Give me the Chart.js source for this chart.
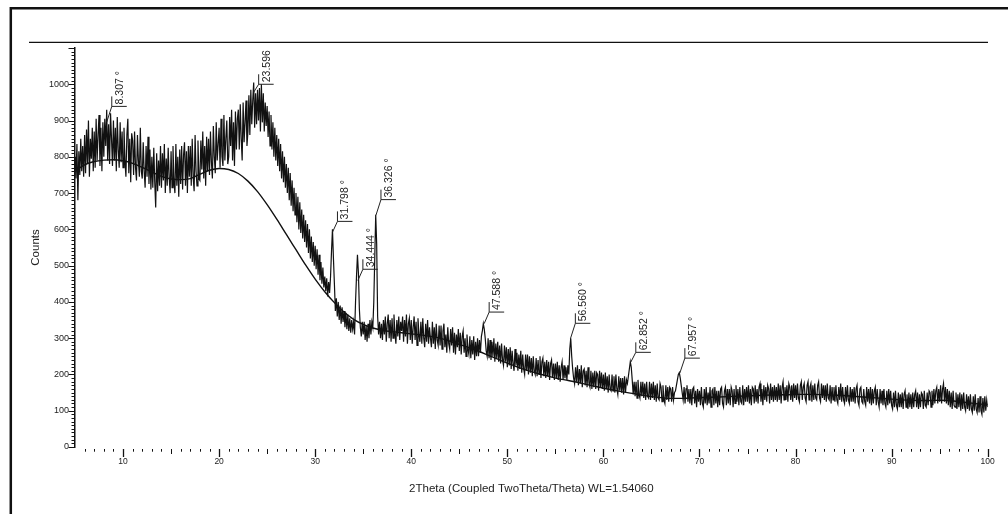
<!DOCTYPE html>
<html><head><meta charset="utf-8">
<script src="https://cdn.jsdelivr.net/npm/chart.js@4/dist/chart.umd.min.js"></script>
<style>html,body{margin:0;padding:0;background:#fff}canvas{display:block}</style>
</head><body>
<canvas id="c" width="1008" height="514"></canvas>
<script>
// ---- data (2Theta grid starts at 5°, one reading every 0.1°) ----
const angleStart = 5;
const angleStep = 0.1;
const counts = [
/* 5 */ 800,740,835,680,815,750,850,760,830,745,
/* 6 */ 860,755,875,780,900,745,850,795,880,760,
/* 7 */ 870,770,905,790,860,915,775,880,760,895,
/* 8 */ 800,905,830,930,790,890,780,920,850,775,
/* 9 */ 900,790,880,760,910,820,770,895,785,870,
/*10 */ 770,880,790,745,860,905,755,850,730,865,
/*11 */ 845,750,870,770,735,860,790,745,880,760,
/*12 */ 740,840,760,715,830,745,855,725,820,710,
/*13 */ 800,715,825,730,660,810,705,790,720,830,
/*14 */ 715,810,735,835,700,795,720,825,745,700,
/*15 */ 815,715,830,730,700,835,720,800,690,820,
/*16 */ 725,830,710,805,840,720,815,700,830,745,
/*17 */ 830,720,850,745,705,860,760,720,845,740,
/*18 */ 735,845,765,870,740,830,720,855,760,850,
/*19 */ 750,870,785,740,885,800,755,895,790,835,
/*20 */ 880,770,905,800,775,915,790,850,900,780,
/*21 */ 800,910,830,930,790,895,775,925,820,905,
/*22 */ 930,820,945,850,790,950,840,895,955,830,
/*23 */ 870,970,860,985,890,955,1005,880,975,890,
/*24 */ 985,900,990,870,1000,895,975,870,950,885,
/*25 */ 940,855,925,830,915,820,895,800,880,790,
/*26 */ 860,775,850,760,835,740,815,730,800,715,
/*27 */ 780,700,770,680,755,665,735,650,715,640,
/*28 */ 700,620,690,600,675,590,655,575,640,565,
/*29 */ 625,550,615,535,600,520,580,510,565,500,
/*30 */ 555,490,545,475,530,460,510,450,495,440,
/*31 */ 470,430,465,415,455,425,470,540,600,520,
/*32 */ 450,375,410,360,400,350,390,340,385,345,
/*33 */ 375,330,370,325,365,320,355,315,350,325,
/*34 */ 345,310,400,470,530,480,380,330,305,345,
/*35 */ 310,345,295,335,290,340,300,350,310,345,
/*36 */ 330,400,520,640,560,360,310,345,300,340,
/*37 */ 295,350,310,360,290,340,365,300,350,290,
/*38 */ 355,300,365,315,285,350,305,360,295,345,
/*39 */ 320,360,290,350,305,365,285,340,355,295,
/*40 */ 350,285,330,360,295,345,280,355,310,290,
/*41 */ 345,285,355,300,275,340,290,350,285,330,
/*42 */ 300,275,345,285,330,270,340,295,280,335,
/*43 */ 280,335,270,320,340,275,310,260,330,285,
/*44 */ 270,325,280,330,260,315,255,310,275,325,
/*45 */ 265,315,255,305,320,260,300,250,310,270,
/*46 */ 255,305,245,295,255,305,240,290,250,300,
/*47 */ 250,295,260,305,320,340,325,300,265,250,
/*48 */ 300,245,295,240,290,250,300,235,285,245,
/*49 */ 290,235,280,230,285,240,225,280,235,275,
/*50 */ 220,270,225,275,215,265,230,210,270,225,
/*51 */ 260,210,255,215,265,205,255,215,200,255,
/*52 */ 210,255,200,250,205,245,195,250,210,200,
/*53 */ 245,195,240,200,250,190,235,245,195,235,
/*54 */ 190,240,195,235,185,230,240,190,230,185,
/*55 */ 230,190,235,185,225,180,220,235,185,225,
/*56 */ 190,220,185,225,200,270,300,250,215,190,
/*57 */ 175,220,180,225,170,215,175,225,165,210,
/*58 */ 215,170,210,165,220,175,165,210,160,205,
/*59 */ 165,210,160,205,200,155,210,165,205,160,
/*60 */ 200,155,205,160,195,150,200,160,155,200,
/*61 */ 155,195,150,200,160,145,195,155,190,150,
/*62 */ 190,145,195,150,185,175,195,215,235,220,
/*63 */ 185,145,180,140,180,135,185,145,135,180,
/*64 */ 140,180,135,175,130,180,140,135,180,130,
/*65 */ 175,135,180,130,170,125,175,135,130,175,
/*66 */ 165,125,170,130,120,170,130,165,125,165,
/*67 */ 160,125,165,130,150,155,170,185,200,205,
/*68 */ 190,170,150,130,165,120,160,170,125,160,
/*69 */ 120,160,115,160,165,120,155,110,160,125,
/*70 */ 155,115,165,120,110,160,120,165,115,150,
/*71 */ 120,165,110,155,160,115,165,120,155,110,
/*72 */ 155,115,160,165,120,110,155,165,115,160,
/*73 */ 120,160,115,165,155,110,160,120,170,125,
/*74 */ 160,115,165,125,120,170,115,160,125,165,
/*75 */ 125,170,120,160,115,165,160,120,170,125,
/*76 */ 160,120,165,175,125,160,115,170,130,165,
/*77 */ 125,170,160,120,175,130,165,125,170,130,
/*78 */ 165,125,175,130,170,120,165,180,130,165,
/*79 */ 130,170,125,175,165,130,170,125,175,135,
/*80 */ 170,130,175,135,125,170,180,130,165,175,
/*81 */ 135,125,170,180,130,165,175,125,170,130,
/*82 */ 175,135,130,170,180,135,125,175,135,170,
/*83 */ 130,170,125,175,135,130,170,120,165,130,
/*84 */ 165,125,170,130,120,165,130,175,125,165,
/*85 */ 130,120,165,125,170,130,120,165,125,160,
/*86 */ 125,165,120,160,170,125,115,160,165,125,
/*87 */ 120,160,125,115,165,125,160,120,165,115,
/*88 */ 160,120,155,165,115,160,125,110,160,120,
/*89 */ 155,115,160,120,110,155,115,160,120,155,
/*90 */ 115,105,150,110,155,115,105,150,110,145,
/*91 */ 110,150,105,145,155,110,145,105,150,110,
/*92 */ 145,105,150,110,145,155,110,150,105,145,
/*93 */ 110,150,145,105,155,115,110,150,115,155,
/*94 */ 150,110,155,115,160,120,155,165,120,160,
/*95 */ 125,170,120,160,175,125,165,120,160,115,
/*96 */ 155,110,150,105,155,115,110,150,105,145,
/*97 */ 110,150,100,145,105,150,110,100,145,105,
/*98 */ 140,100,145,105,95,140,100,145,105,95,
/*99 */ 135,95,140,100,90,135,95,140,100,130,
/*100*/ 110
];

// fitted background curve
const bgAngles = [5,6,7,8,9,10,11,12,13,14,15,16,17,18,19,20,21,22,23,24,25,26,27,28,29,30,31,32,33,34,35,36,37,38,39,40,41,42,43,44,45,46,47,48,49,50,51,52,53,54,55,56,57,58,59,60,61,62,63,64,65,66,67,68,69,70,71,72,73,74,75,76,77,78,79,80,81,82,83,84,85,86,87,88,89,90,91,92,93,94,95,96,97,98,99,100];
const bgCounts = [761,778,787,791,792,789,782,771,758,746,739,737,740,752,763,768,765,754,733,704,668,628,586,544,502,463,428,398,372,352,338,328,322,318,315,312,309,305,300,292,283,274,264,253,242,231,221,212,204,197,190,185,180,174,168,162,157,152,148,143,139,136,134,134,135,136,137,138,139,140,141,142,143,144,144,145,145,145,144,143,142,140,138,136,134,132,130,129,128,128,129,128,125,122,119,117];

// peak annotations
const peakLabels = ['8.307','23.596','31.798','34.444','36.326','47.588','56.560','62.852','67.957'];
const peakAngles = [8.307,23.596,31.798,34.444,36.326,47.588,56.560,62.852,67.957];
const peakTopCounts = [896,978,592,459,639,340,298,234,204];
const peakBarCounts = [939,1000,622,490,682,372,341,261,245];

// tick labels
const xTickLabels = [10,20,30,40,50,60,70,80,90,100];
const yTickLabels = [0,100,200,300,400,500,600,700,800,900,1000];

const FONT = "'Liberation Sans', Arial, Helvetica, sans-serif";
Chart.defaults.font.family = FONT;
Chart.defaults.color = '#222';

const dataPts = counts.map((v, i) => ({x: +(angleStart + i * angleStep).toFixed(1), y: v}));
const bgPts = bgAngles.map((a, i) => ({x: a, y: bgCounts[i]}));

const decor = {
  id: 'decor',
  afterDatasetsDraw(chart) {
    const {ctx, scales: {x, y}, chartArea: ca} = chart;
    ctx.save();
    ctx.beginPath();
    ctx.rect(ca.left, ca.top, ca.right - ca.left + 30, ca.bottom - ca.top);
    ctx.clip();
    ctx.strokeStyle = '#222';
    ctx.lineWidth = 1;
    ctx.fillStyle = '#222';
    ctx.font = '10.5px ' + FONT;
    for (let i = 0; i < peakAngles.length; i++) {
      const px = x.getPixelForValue(peakAngles[i]);
      const py = y.getPixelForValue(peakTopCounts[i]);
      const by = y.getPixelForValue(peakBarCounts[i]);
      const bx = px + 5;
      ctx.beginPath();
      ctx.moveTo(px, py);
      ctx.lineTo(bx, by);
      ctx.moveTo(bx, by - 10);
      ctx.lineTo(bx, by);
      ctx.lineTo(bx + 15, by);
      ctx.stroke();
      ctx.save();
      ctx.translate(bx + 11, by - 2);
      ctx.rotate(-Math.PI / 2);
      ctx.textAlign = 'left';
      ctx.textBaseline = 'alphabetic';
      ctx.fillText(peakLabels[i] + ' \u00B0', 0, 0);
      ctx.restore();
    }
    ctx.restore();
  },
  afterDraw(chart) {
    const {ctx, scales: {x, y}, chartArea: ca} = chart;
    ctx.save();
    ctx.strokeStyle = '#111';
    ctx.lineWidth = 2.5;
    ctx.beginPath();
    ctx.moveTo(10.8, 514); ctx.lineTo(10.8, 8.2); ctx.lineTo(1008, 8.2);
    ctx.stroke();
    ctx.lineWidth = 1.3;
    ctx.beginPath();
    ctx.moveTo(29, 42.3); ctx.lineTo(988, 42.3);
    ctx.stroke();
    ctx.lineWidth = 1;
    for (let v = 0; v <= 1100; v += 10) {
      const py = Math.round(y.getPixelForValue(v)) + 0.5;
      const major = v % 100 === 0;
      ctx.beginPath();
      ctx.moveTo(ca.left - (major ? 6.5 : 3.5), py);
      ctx.lineTo(ca.left, py);
      ctx.stroke();
    }
    for (let d = 6; d <= 100; d++) {
      const px = Math.round(x.getPixelForValue(d)) + 0.5;
      const len = d % 10 === 0 ? 8 : (d % 5 === 0 ? 5 : 2.7);
      ctx.lineWidth = d % 10 === 0 ? 1.3 : 1;
      ctx.beginPath();
      ctx.moveTo(px, ca.bottom + 2);
      ctx.lineTo(px, ca.bottom + 2 + len);
      ctx.stroke();
    }
    ctx.restore();
  }
};

new Chart(document.getElementById('c').getContext('2d'), {
  type: 'line',
  data: {
    datasets: [
      {data: dataPts, borderColor: '#111', borderWidth: 1.2, pointRadius: 0, tension: 0},
      {data: bgPts, borderColor: '#111', borderWidth: 1.4, pointRadius: 0, cubicInterpolationMode: 'monotone'}
    ]
  },
  options: {
    responsive: false,
    animation: false,
    events: [],
    layout: {padding: {left: 0, top: 48, right: 20.3, bottom: 0}},
    plugins: {legend: {display: false}, tooltip: {enabled: false}},
    scales: {
      x: {
        type: 'linear', min: 5, max: 100,
        grid: {display: false, drawTicks: false},
        border: {display: false},
        ticks: {stepSize: 10, includeBounds: false, autoSkip: false, maxRotation: 0,
                font: {size: 8.5}, padding: 10,
                callback: v => xTickLabels.includes(v) ? String(v) : ''},
        title: {display: true, text: '2Theta (Coupled TwoTheta/Theta) WL=1.54060',
                font: {size: 11.5}, padding: {top: 0, bottom: 18}},
        afterFit: s => { s.height = 67; }
      },
      y: {
        type: 'linear', min: 0, max: 1100,
        grid: {display: false, drawTicks: false},
        border: {display: true, color: '#111', width: 1.5},
        ticks: {stepSize: 100, autoSkip: false, font: {size: 9}, padding: 6,
                callback: v => yTickLabels.includes(v) ? String(v) : ''},
        title: {display: true, text: 'Counts', font: {size: 11.5}, padding: {top: 29, bottom: 0}},
        afterFit: s => { s.width = 75; }
      }
    }
  },
  plugins: [decor]
});
</script>
</body></html>
